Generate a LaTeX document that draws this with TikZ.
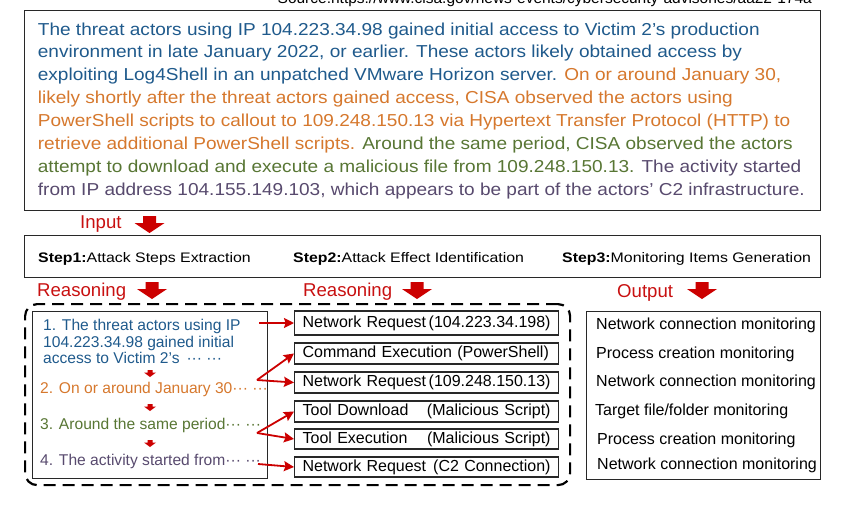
\documentclass[tikz,border=0pt]{standalone}
\usepackage{fontspec}
\setmainfont{Liberation Sans}
\newfontfamily\parafont{Liberation Sans}[FakeStretch=1.1]
\newfontfamily\stepfont{Liberation Sans}[FakeStretch=1.15]
\usetikzlibrary{arrows.meta}
\definecolor{tblue}{RGB}{31,90,140}
\definecolor{torange}{RGB}{214,120,45}
\definecolor{tgreen}{RGB}{88,118,52}
\definecolor{tpurple}{RGB}{88,74,110}
\definecolor{ared}{RGB}{204,0,0}
\definecolor{lred}{RGB}{200,16,16}
\definecolor{frame}{RGB}{40,40,40}
\begin{document}
\begin{tikzpicture}[x=1pt,y=-1pt,
  frm/.style={draw=frame,line width=1.3pt,inner sep=0pt},
  rbox/.style={draw=frame,line width=1.2pt,inner sep=0pt,minimum width=264pt,anchor=west,text width=248pt,align=left,font=\fontsize{16}{18}\selectfont},
  txt/.style={anchor=base west,inner sep=0pt,font=\fontsize{16}{18}\selectfont},
  ltxt/.style={anchor=base west,inner sep=0pt,font=\fontsize{15.6}{18}\selectfont},
  steptxt/.style={anchor=base west,inner sep=0pt,font=\stepfont\fontsize{13.8}{16}\selectfont},
  lbl/.style={anchor=base west,inner sep=0pt,text=lred,font=\fontsize{18.6}{20}\selectfont},
  conn/.style={draw=ared,line width=1.8pt,-{Stealth[inset=1.5pt,length=10pt,width=10pt]}},
  bigdown/.pic={\fill[ared] (-6.5,0)--(6.5,0)--(6.5,7)--(15,7)--(0,17)--(-15,7)--(-6.5,7)--cycle;},
  smalldown/.pic={\fill[ared] (-2.5,0)--(2.5,0)--(2.5,2.5)--(6,2.5)--(0,7)--(-6,2.5)--(-2.5,2.5)--cycle;}
]
\useasboundingbox (0,0) rectangle (849,509);

% source line (clipped at top)
\node[anchor=base east,inner sep=0pt,font=\fontsize{15.5}{17}\selectfont] (src) at (812,3.5) {Source:https://www.cisa.gov/news-events/cybersecurity-advisories/aa22-174a};

% top paragraph box
\node[frm,minimum width=796pt,minimum height=200.5pt,anchor=north west,fill=white] (top) at (24,9.5) {};
\node[anchor=base west,inner sep=0pt,align=left,font=\parafont\fontsize{17.3}{22.9}\selectfont] (para) at (37.7,195.3) {%
\textcolor{tblue}{The threat actors using IP 104.223.34.98 gained initial access to Victim 2’s production}\\
\textcolor{tblue}{environment in late January 2022, or earlier. These actors likely obtained access by}\\
\textcolor{tblue}{exploiting Log4Shell in an unpatched VMware Horizon server.} \textcolor{torange}{On or around January 30,}\\
\textcolor{torange}{likely shortly after the threat actors gained access, CISA observed the actors using}\\
\textcolor{torange}{PowerShell scripts to callout to 109.248.150.13 via Hypertext Transfer Protocol (HTTP) to}\\
\textcolor{torange}{retrieve additional PowerShell scripts.} \textcolor{tgreen}{Around the same period, CISA observed the actors}\\
\textcolor{tgreen}{attempt to download and execute a malicious file from 109.248.150.13.} \textcolor{tpurple}{The activity started}\\
\textcolor{tpurple}{from IP address 104.155.149.103, which appears to be part of the actors’ C2 infrastructure.}};

% Input label
\node[lbl] (input) at (80,228) {Input};
\pic at (149.5,216) {bigdown};

% steps box
\node[frm,minimum width=796pt,minimum height=42pt,anchor=north west] (steps) at (24,235) {};
\node[steptxt] (s1) at (38,262) {\textbf{Step1:}Attack Steps Extraction};
\node[steptxt] (s2) at (293,262) {\textbf{Step2:}Attack Effect Identification};
\node[steptxt] (s3) at (562,262) {\textbf{Step3:}Monitoring Items Generation};

% labels row
\node[lbl] (rea1) at (37,296) {Reasoning};
\pic at (152,282) {bigdown};
\node[lbl] (rea2) at (303,296) {Reasoning};
\pic at (417,282) {bigdown};
\node[lbl] (outl) at (617,297) {Output};
\pic at (702,282) {bigdown};

% dashed group
\node[draw=black,line width=2.2pt,dash pattern=on 12pt off 7pt,rounded corners=12pt,minimum width=545pt,minimum height=181pt,anchor=north west,inner sep=0pt] (grp) at (24,303) {};

% left box with attack steps
\node[draw=frame,line width=1.2pt,minimum width=235pt,minimum height=167pt,anchor=north west,inner sep=0pt] (lbox) at (32,311) {};
\node[ltxt,text=tblue] (a1) at (43,330) {1. The threat actors using IP};
\node[ltxt,text=tblue] (a1b) at (43,347) {104.223.34.98 gained initial};
\node[ltxt,text=tblue] (a1c) at (43,363) {access to Victim 2’s\, ··· ···};
\pic at (150,370) {smalldown};
\node[ltxt,text=torange] (a2) at (40,393) {2. On or around January 30··· ···};
\pic at (150,404) {smalldown};
\node[ltxt,text=tgreen] (a3) at (40,429) {3. Around the same period··· ···};
\pic at (150,440) {smalldown};
\node[ltxt,text=tpurple] (a4) at (40,465) {4. The activity started from··· ···};

% effect boxes
\node[rbox,minimum height=24pt] (r1) at (294,323) {Network Request\hfill(104.223.34.198)};
\node[rbox,minimum height=21pt] (r2) at (294,353.5) {Command Execution (PowerShell)};
\node[rbox,minimum height=21pt] (r3) at (294,382.5) {Network Request\hfill(109.248.150.13)};
\node[rbox,minimum height=21pt] (r4) at (294,411.5) {Tool Download\hfill(Malicious Script)};
\node[rbox,minimum height=20pt] (r5) at (294,439) {Tool Execution\hfill(Malicious Script)};
\node[rbox,minimum height=20pt] (r6) at (294,467) {Network Request\hfill(C2 Connection)};

% connectors
\coordinate (c1) at (259,323);
\coordinate (c2) at (257,380);
\coordinate (c3) at (257,433);
\coordinate (c4) at (258,464);
\draw[conn] (c1) -- (r1.west);
\draw[conn] (c2) -- (r2.west);
\draw[conn] (c2) -- (r3.west);
\draw[conn] (c3) -- (r4.west);
\draw[conn] (c3) -- (r5.west);
\draw[conn] (c4) -- (r6.west);

% output box
\node[draw=frame,line width=1.2pt,minimum width=234pt,minimum height=168pt,anchor=north west,inner sep=0pt] (obox) at (586,311) {};
\node[txt] (o1) at (596,329) {Network connection monitoring};
\node[txt] (o2) at (596,358) {Process creation monitoring};
\node[txt] (o3) at (596,386) {Network connection monitoring};
\node[txt] (o4) at (595,415) {Target file/folder monitoring};
\node[txt] (o5) at (597,444) {Process creation monitoring};
\node[txt] (o6) at (597,469) {Network connection monitoring};
\end{tikzpicture}
\end{document}
